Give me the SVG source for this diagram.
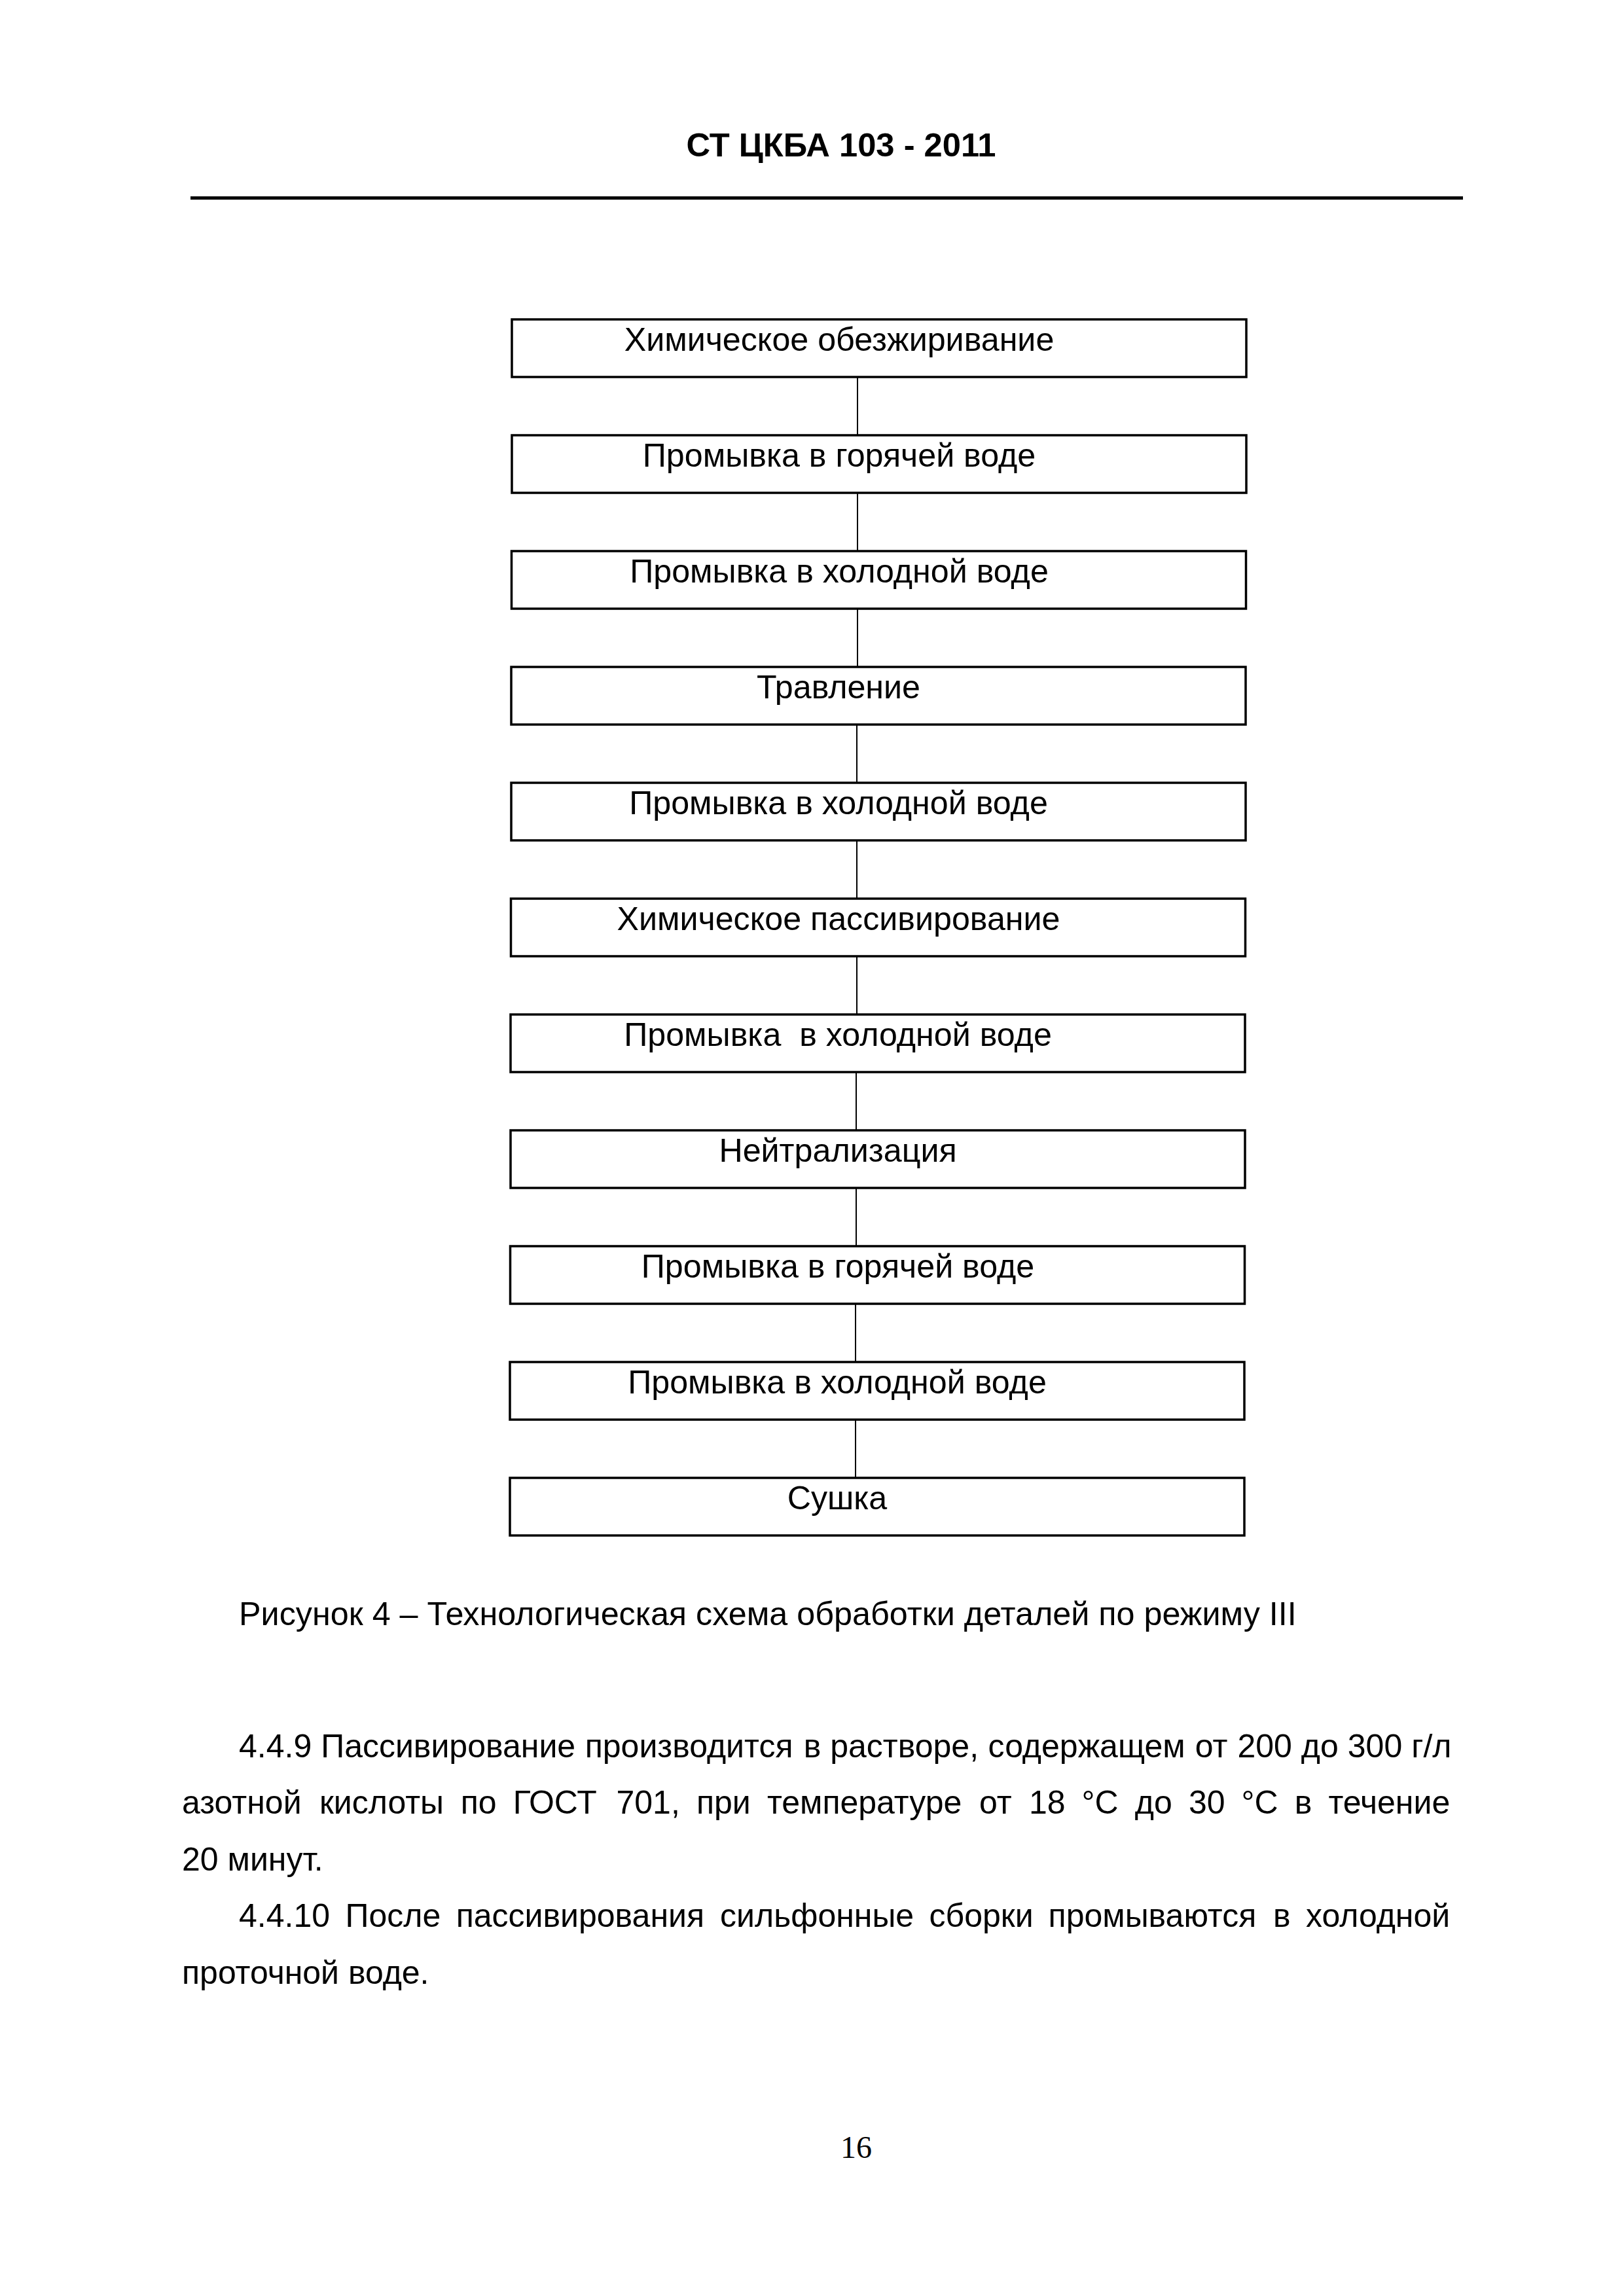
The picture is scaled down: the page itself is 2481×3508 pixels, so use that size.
<svg xmlns="http://www.w3.org/2000/svg" width="2481" height="3508" viewBox="0 0 2481 3508">
<style>
.bx{fill:#fff;stroke:#000;stroke-width:3.5}
.lb{font-family:"Liberation Sans",Arial,sans-serif;font-size:50.2px;fill:#000;text-anchor:middle}
.cn{stroke:#000;stroke-width:2;fill:none}
.hd{font-family:"Liberation Sans",Arial,sans-serif;font-size:50.7px;font-weight:bold;fill:#000;text-anchor:middle}
.cap{font-family:"Liberation Sans",Arial,sans-serif;font-size:50.3px;fill:#000}
.p{font-family:"Liberation Sans",Arial,sans-serif;font-size:50px;fill:#000}
.pg{font-family:"Liberation Serif","Times New Roman",serif;font-size:48px;fill:#000;text-anchor:middle}
</style>
<rect width="2481" height="3508" fill="#fff"/>
<g id="header">
<text class="hd" x="1285" y="239">СТ ЦКБА 103 - 2011</text>
<rect x="291" y="300" width="1944" height="5" fill="#000"/>
</g>
<g id="connectors">
<line class="cn" x1="1310" y1="576" x2="1310" y2="665"/>
<line class="cn" x1="1310" y1="753" x2="1310" y2="842"/>
<line class="cn" x1="1310" y1="930" x2="1310" y2="1019"/>
<line class="cn" x1="1309" y1="1107" x2="1309" y2="1196"/>
<line class="cn" x1="1309" y1="1284" x2="1309" y2="1373"/>
<line class="cn" x1="1309" y1="1461" x2="1309" y2="1550"/>
<line class="cn" x1="1308" y1="1638" x2="1308" y2="1727"/>
<line class="cn" x1="1308" y1="1815" x2="1308" y2="1904"/>
<line class="cn" x1="1307" y1="1992" x2="1307" y2="2081"/>
<line class="cn" x1="1307" y1="2169" x2="1307" y2="2258"/>
</g>
<g id="n1"><rect class="bx" x="782" y="488" width="1122" height="88"/><text class="lb" x="1282" y="536">Химическое обезжиривание</text></g>
<g id="n2"><rect class="bx" x="782" y="665" width="1122" height="88"/><text class="lb" x="1282" y="713">Промывка в горячей воде</text></g>
<g id="n3"><rect class="bx" x="781.5" y="842" width="1122" height="88"/><text class="lb" x="1282" y="890">Промывка в холодной воде</text></g>
<g id="n4"><rect class="bx" x="781" y="1019" width="1122" height="88"/><text class="lb" x="1281" y="1067">Травление</text></g>
<g id="n5"><rect class="bx" x="781" y="1196" width="1122" height="88"/><text class="lb" x="1281" y="1244">Промывка в холодной воде</text></g>
<g id="n6"><rect class="bx" x="780.5" y="1373" width="1122" height="88"/><text class="lb" x="1281" y="1421">Химическое пассивирование</text></g>
<g id="n7"><rect class="bx" x="780" y="1550" width="1122" height="88"/><text class="lb" x="1280" y="1598" xml:space="preserve">Промывка  в холодной воде</text></g>
<g id="n8"><rect class="bx" x="780" y="1727" width="1122" height="88"/><text class="lb" x="1280" y="1775">Нейтрализация</text></g>
<g id="n9"><rect class="bx" x="779.5" y="1904" width="1122" height="88"/><text class="lb" x="1280" y="1952">Промывка в горячей воде</text></g>
<g id="n10"><rect class="bx" x="779" y="2081" width="1122" height="88"/><text class="lb" x="1279" y="2129">Промывка в холодной воде</text></g>
<g id="n11"><rect class="bx" x="779" y="2258" width="1122" height="88"/><text class="lb" x="1279" y="2306">Сушка</text></g>
<g id="caption">
<text class="cap" x="365" y="2483">Рисунок 4 – Технологическая схема обработки деталей по режиму III</text>
</g>
<g id="body">
<text class="p" y="2685"><tspan x="365">4.4.9</tspan><tspan x="490.2">Пассивирование</tspan><tspan x="893.7">производится</tspan><tspan x="1227.7">в</tspan><tspan x="1268.2">растворе,</tspan><tspan x="1509.6">содержащем</tspan><tspan x="1825.7">от</tspan><tspan x="1890.4">200</tspan><tspan x="1987.8">до</tspan><tspan x="2058.8">300</tspan><tspan x="2156.2">г/л</tspan></text>
<text class="p" y="2771"><tspan x="278">азотной</tspan><tspan x="487.9">кислоты</tspan><tspan x="703.7">по</tspan><tspan x="783.7">ГОСТ</tspan><tspan x="941.5">701,</tspan><tspan x="1063.9">при</tspan><tspan x="1171.9">температуре</tspan><tspan x="1496.1">от</tspan><tspan x="1571.9">18</tspan><tspan x="1652.6">°С</tspan><tspan x="1733.8">до</tspan><tspan x="1815.9">30</tspan><tspan x="1896.6">°С</tspan><tspan x="1977.8">в</tspan><tspan x="2029.5">течение</tspan></text>
<text class="p" x="278" y="2858">20 минут.</text>
<text class="p" y="2944"><tspan x="365">4.4.10</tspan><tspan x="527.5">После</tspan><tspan x="696.7">пассивирования</tspan><tspan x="1100.1">сильфонные</tspan><tspan x="1419.6">сборки</tspan><tspan x="1601.6">промываются</tspan><tspan x="1945">в</tspan><tspan x="1995.1">холодной</tspan></text>
<text class="p" x="278" y="3031">проточной воде.</text>
</g>
<g id="page-number">
<text class="pg" x="1308" y="3297">16</text>
</g>
</svg>
